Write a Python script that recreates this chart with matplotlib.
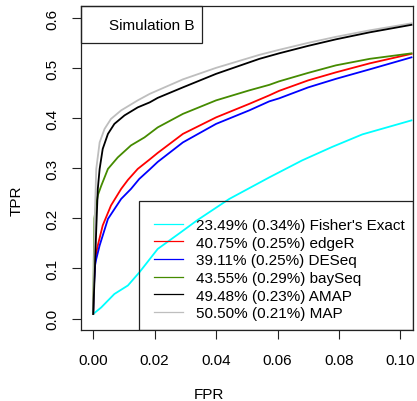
import matplotlib
matplotlib.use("Agg")
import matplotlib.pyplot as plt
from matplotlib.patches import Rectangle

plt.rcParams['font.family'] = ['Liberation Sans', 'DejaVu Sans']
plt.rcParams['font.size'] = 11

# ROC curves (FPR, TPR)
fisher_x = [0, 0.0026, 0.0069, 0.0113, 0.015, 0.021, 0.028, 0.034, 0.0443, 0.0573, 0.068, 0.0778, 0.0876, 0.1036]
fisher_y = [0.009, 0.022, 0.049, 0.066, 0.092, 0.139, 0.170, 0.197, 0.239, 0.282, 0.316, 0.343, 0.368, 0.396]

edger_x = [0, 0.0003, 0.0006, 0.0015, 0.0031, 0.0058, 0.0091, 0.0113, 0.0145, 0.0184, 0.021, 0.0292,
           0.04, 0.0508, 0.0573, 0.0605, 0.07, 0.079, 0.09, 0.1036]
edger_y = [0.009, 0.08, 0.119, 0.146, 0.186, 0.226, 0.259, 0.277, 0.299, 0.318, 0.331, 0.369,
           0.402, 0.429, 0.446, 0.455, 0.476, 0.492, 0.510, 0.529]

deseq_x = [0, 0.0003, 0.0006, 0.001, 0.0021, 0.0048, 0.0091, 0.0123, 0.015, 0.0184, 0.021, 0.0292,
           0.04, 0.0508, 0.0573, 0.0605, 0.07, 0.079, 0.09, 0.1036]
deseq_y = [0.009, 0.07, 0.106, 0.119, 0.146, 0.199, 0.239, 0.259, 0.279, 0.298, 0.313, 0.352,
           0.389, 0.416, 0.434, 0.440, 0.462, 0.479, 0.498, 0.522]

bayseq_x = [0, 0.0002, 0.0004, 0.0009, 0.0016, 0.0026, 0.0048, 0.008, 0.0123, 0.0167, 0.021, 0.0292,
            0.04, 0.0508, 0.0573, 0.0605, 0.07, 0.079, 0.09, 0.1036]
bayseq_y = [0.009, 0.12, 0.2, 0.226, 0.248, 0.265, 0.299, 0.322, 0.346, 0.362, 0.382, 0.409,
            0.436, 0.456, 0.467, 0.474, 0.491, 0.506, 0.519, 0.530]

amap_x = [0, 0.0005, 0.001, 0.0015, 0.0021, 0.0031, 0.0048, 0.0069, 0.0102, 0.0145, 0.0184, 0.021,
          0.0292, 0.04, 0.0541, 0.0605, 0.07, 0.079, 0.09, 0.1036]
amap_y = [0.009, 0.09, 0.179, 0.259, 0.299, 0.339, 0.369, 0.389, 0.406, 0.422, 0.432, 0.441,
          0.462, 0.489, 0.519, 0.530, 0.545, 0.558, 0.572, 0.587]

map_x = [0, 0.0006, 0.001, 0.0021, 0.0037, 0.0058, 0.0091, 0.0145, 0.0184, 0.021, 0.0292, 0.04,
         0.0541, 0.0605, 0.07, 0.079, 0.09, 0.1036]
map_y = [0.009, 0.22, 0.299, 0.352, 0.379, 0.399, 0.416, 0.436, 0.449, 0.456, 0.478, 0.501,
         0.527, 0.537, 0.551, 0.563, 0.576, 0.590]

labels = ["23.49% (0.34%) Fisher's Exact", "40.75% (0.25%) edgeR", "39.11% (0.25%) DESeq",
          "43.55% (0.29%) baySeq", "49.48% (0.23%) AMAP", "50.50% (0.21%) MAP"]
colors = ["#00FFFF", "#FF0000", "#0000FF", "#458B00", "#000000", "#BEBEBE"]

xticks = [0.00, 0.02, 0.04, 0.06, 0.08, 0.10]
yticks = [0.0, 0.1, 0.2, 0.3, 0.4, 0.5, 0.6]

fig = plt.figure(figsize=(4.17, 4.02), dpi=100)
ax = fig.add_axes([0.194, 0.1766, 0.7957, 0.8052])

curves = [(fisher_x, fisher_y), (edger_x, edger_y), (deseq_x, deseq_y),
          (bayseq_x, bayseq_y), (amap_x, amap_y), (map_x, map_y)]
# MAP drawn before AMAP so the black line sits on top
for i in [0, 1, 2, 3, 5, 4]:
    x, y = curves[i]
    ax.plot(x, y, color=colors[i], lw=1.3)
handles = [ax.plot([], [], color=c, lw=0.9)[0] for c in colors]

ax.set_xlim(-0.004, 0.104)
ax.set_ylim(-0.023, 0.624)
ax.set_xticks(xticks)
ax.set_xticklabels(["%.2f" % v for v in xticks])
ax.set_yticks(yticks)
ax.set_yticklabels(["%.1f" % v for v in yticks])
ax.tick_params(direction='out', length=6.5, width=0.8, pad=10, colors='#222222', labelcolor='black')
ax.tick_params(axis='y', labelrotation=90, pad=9)
for lbl in ax.get_yticklabels():
    lbl.set_va('center')
for s in ax.spines.values():
    s.set_linewidth(0.9)
    s.set_color('#222222')

# legend box drawn by hand (no fill, the cyan curve shows through), legend itself frameless
ax.add_patch(Rectangle((0.176, 0), 0.824, 0.3995, transform=ax.transAxes, fill=False,
                       edgecolor='#222222', lw=0.9, zorder=4))
leg = ax.legend(handles, labels, loc='lower right', bbox_to_anchor=(1, 0.004), borderaxespad=0,
                frameon=False, handlelength=1.9, handletextpad=0.85, borderpad=0.55,
                labelspacing=0.24, fontsize=11)
leg.set_zorder(5)

# "Simulation B" box in the top-left corner
ax.add_patch(Rectangle((0, 0.886), 0.364, 0.114, transform=ax.transAxes, fill=False,
                       edgecolor='#222222', lw=0.9, clip_on=False))
ax.text(0.2125, 0.943, "Simulation B", transform=ax.transAxes, ha='center', va='center')

fig.text(0.5, (402 - 395) / 402, "FPR", ha='center', va='center')
fig.text(17 / 417, 0.5, "TPR", ha='center', va='center', rotation=90)

fig.savefig("out.png", dpi=100)
